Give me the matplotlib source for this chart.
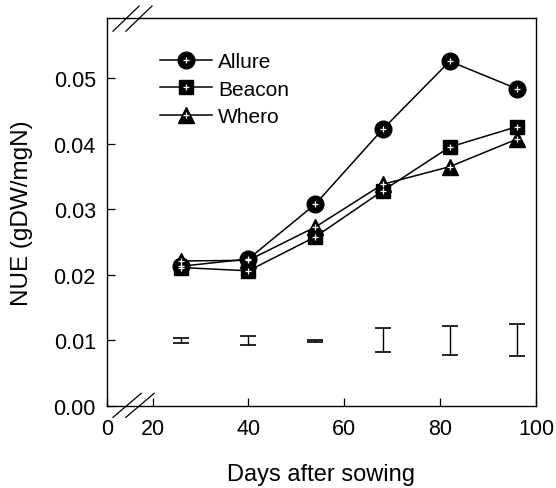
import numpy as np
import matplotlib
matplotlib.use("Agg")
import matplotlib.pyplot as plt

plt.rcParams['font.family'] = ['Liberation Sans', 'DejaVu Sans']

# days after sowing
days = [26, 40, 54, 68, 82, 96]
allure = [0.0213, 0.0224, 0.0308, 0.0422, 0.0526, 0.0484]
beacon = [0.0211, 0.0206, 0.0258, 0.0328, 0.0395, 0.0426]
whero = [0.0221, 0.0222, 0.0273, 0.0338, 0.0365, 0.0407]
# LSD bars drawn near 0.01
lsd_mid = [0.0099, 0.0100, 0.00995, 0.0100, 0.0100, 0.01005]
lsd_half = [0.0004, 0.0007, 0.00015, 0.0018, 0.0022, 0.00245]

xticks = [20, 40, 60, 80, 100]
yticks = [0.00, 0.01, 0.02, 0.03, 0.04, 0.05]
x_left = 10.5

fig = plt.figure(figsize=(5.56, 4.89), dpi=100)
ax = fig.add_axes([0.1924, 0.1683, 0.7716, 0.7928])

series = [(allure, 'o', 12, 'Allure', 3), (beacon, 's', 9.5, 'Beacon', 4), (whero, '^', 11, 'Whero', 5)]
handles = []
for vals, mk, ms, name, z in series:
    l1, = ax.plot(days, vals, color='black', lw=1.1, marker=mk, ms=ms,
                  mfc='black', mec='black', zorder=z)
    l2, = ax.plot(days, vals, ls='none', marker='+', ms=5, mew=0.9, color='white', zorder=6)
    handles.append(((l1, l2), name))

ax.errorbar(days, lsd_mid, yerr=lsd_half, fmt='none', ecolor='black',
            elinewidth=1.0, capsize=6, capthick=1.2)

ax.legend([h for h, n in handles], [n for h, n in handles], loc='upper left',
          bbox_to_anchor=(0.08, 0.96), frameon=False, fontsize=15,
          handlelength=2.5, handletextpad=0.3, labelspacing=0.4)

ax.set_xlim(x_left, 100)
ax.set_ylim(0, 0.0592)
ax.set_xticks([x_left] + xticks)
ax.set_xticklabels(['0'] + [str(t) for t in xticks])
ax.set_yticks(yticks)
ax.set_yticklabels(['%.2f' % t for t in yticks])
ax.tick_params(direction='in', length=6, width=0.9, labelsize=15.5)
ax.tick_params(axis='y', pad=8)
ax.tick_params(axis='x', pad=9)
for s in ax.spines.values():
    s.set_linewidth(1.0)

ax.set_xlabel('Days after sowing', fontsize=17, labelpad=17)
ax.set_ylabel('NUE (gDW/mgN)', fontsize=17.5, labelpad=15)

# axis break marks
for dx in (0.0, 0.03):
    ax.plot([0.014 + dx, 0.075 + dx], [0.966, 1.031], transform=ax.transAxes,
            color='black', lw=0.9, clip_on=False)
    ax.plot([0.014 + dx, 0.08 + dx], [-0.030, 0.032], transform=ax.transAxes,
            color='black', lw=0.9, clip_on=False)

fig.savefig('out.png', dpi=100)
